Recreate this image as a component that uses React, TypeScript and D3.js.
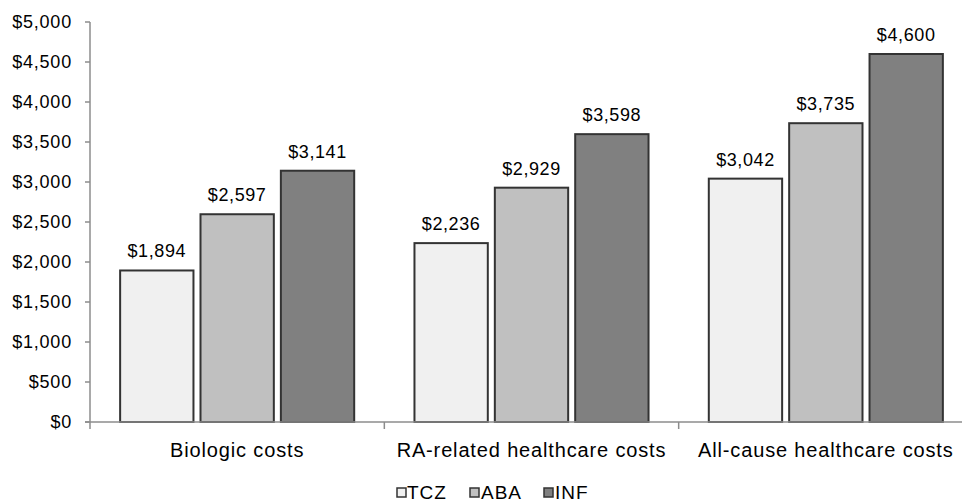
import React from 'react';
import * as d3 from 'd3';

const categories = ['Biologic costs', 'RA-related healthcare costs', 'All-cause healthcare costs'];
const seriesNames = ['TCZ', 'ABA', 'INF'];
const tczValues = [1894, 2236, 3042];
const abaValues = [2597, 2929, 3735];
const infValues = [3141, 3598, 4600];
const yTicks = [0, 500, 1000, 1500, 2000, 2500, 3000, 3500, 4000, 4500, 5000];

const fills: Record<string, string> = { TCZ: '#f0f0f0', ABA: '#c0c0c0', INF: '#808080' };
const font = '"Liberation Sans", Arial, sans-serif';

const width = 962;
const height = 503;
const margin = { top: 22, left: 90, bottom: 81 };

const App = () => {
  const rows = categories.map((c, i) => ({
    category: c,
    values: [
      { key: 'TCZ', value: tczValues[i] },
      { key: 'ABA', value: abaValues[i] },
      { key: 'INF', value: infValues[i] },
    ],
  }));

  const x0 = d3.scaleBand<string>().domain(categories).range([margin.left, 973]).padding(0);
  const x1 = d3.scaleBand<string>()
    .domain(seriesNames)
    .range([0, x0.bandwidth()])
    .paddingInner(0.0875)
    .paddingOuter(0.375);
  const y = d3.scaleLinear().domain([0, 5000]).range([height - margin.bottom, margin.top]);
  const fmt = d3.format('$,');
  const base = y(0);

  const legendItems = [
    { key: 'TCZ', x: 397, tx: 407 },
    { key: 'ABA', x: 470, tx: 481 },
    { key: 'INF', x: 544, tx: 555 },
  ];

  return (
    <svg width={width} height={height} style={{ position: 'absolute', left: 0, top: 0, background: '#fff' }}>
      <g fontFamily={font} fill="#000">
        {/* y axis */}
        <line x1={margin.left} x2={margin.left} y1={y(5000)} y2={base + 7} stroke="#8c8c8c" strokeWidth={1.5} />
        {yTicks.map(t => (
          <g key={t}>
            <line x1={margin.left - 5} x2={margin.left} y1={y(t)} y2={y(t)} stroke="#8c8c8c" strokeWidth={1.5} />
            <text x={72} y={y(t)} dy="0.35em" textAnchor="end" fontSize={18} letterSpacing={0.8}>
              {fmt(t)}
            </text>
          </g>
        ))}

        {/* bars */}
        {rows.map(r => (
          <g key={r.category} transform={`translate(${x0(r.category)},0)`}>
            {r.values.map(v => (
              <g key={v.key}>
                <rect
                  x={x1(v.key)}
                  y={y(v.value)}
                  width={x1.bandwidth()}
                  height={base - y(v.value)}
                  fill={fills[v.key]}
                  stroke="#333"
                  strokeWidth={2}
                />
                <text
                  x={(x1(v.key) as number) + x1.bandwidth() / 2}
                  y={y(v.value) - 13}
                  textAnchor="middle"
                  fontSize={18}
                  letterSpacing={0.6}
                >
                  {fmt(v.value)}
                </text>
              </g>
            ))}
          </g>
        ))}

        {/* x axis */}
        <line x1={margin.left - 5} x2={width} y1={base} y2={base} stroke="#8c8c8c" strokeWidth={1.5} />
        {categories.map((c, i) => (
          <g key={c}>
            {i > 0 && (
              <line x1={x0(c)} x2={x0(c)} y1={base} y2={base + 7} stroke="#8c8c8c" strokeWidth={1.5} />
            )}
            <text
              x={(x0(c) as number) + x0.bandwidth() / 2}
              y={457}
              textAnchor="middle"
              fontSize={20}
              letterSpacing={0.85}
            >
              {c}
            </text>
          </g>
        ))}

        {/* legend */}
        {legendItems.map(l => (
          <g key={l.key}>
            <rect x={l.x} y={488} width={9} height={9} fill={fills[l.key]} stroke="#333" strokeWidth={1.5} />
            <text x={l.tx} y={499} fontSize={19} letterSpacing={1}>
              {l.key}
            </text>
          </g>
        ))}
      </g>
    </svg>
  );
};

export default App;
